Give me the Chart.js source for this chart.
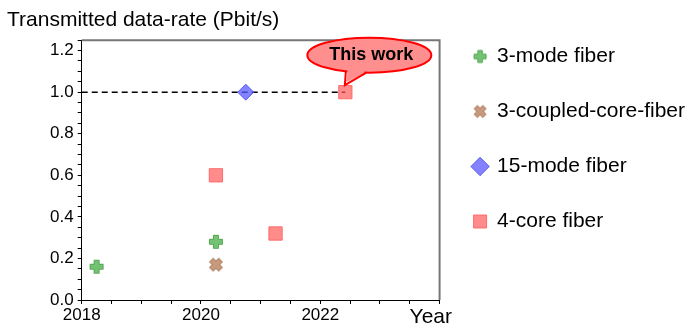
<!DOCTYPE html>
<html>
<head>
<meta charset="utf-8">
<script src="https://cdn.jsdelivr.net/npm/chart.js@4.4.0/dist/chart.umd.min.js"></script>
<style>
body { margin: 0; background: #fff; }
</style>
</head>
<body>
<canvas id="rateChart" width="700" height="331"></canvas>
<script>
// values
const seriesNames = ['3-mode fiber', '3-coupled-core-fiber', '15-mode fiber', '4-core fiber'];
const modeYears = [2018.25, 2020.25];
const modeRates = [0.16, 0.28];
const coupledYears = [2020.25];
const coupledRates = [0.17];
const fewModeYears = [2020.75];
const fewModeRates = [1.0];
const coreYears = [2020.25, 2021.25, 2022.42];
const coreRates = [0.60, 0.32, 1.0];
const refLineYears = [2018, 2022.42];
const refLineRates = [1.0, 1.0];
const yTickValues = [0, 0.2, 0.4, 0.6, 0.8, 1.0, 1.2];
const yTickLabels = ['0.0', '0.2', '0.4', '0.6', '0.8', '1.0', '1.2'];
const xTickValues = [2018, 2020, 2022];
const xTickLabels = ['2018', '2020', '2022'];
const calloutText = 'This work';
const xAxisName = 'Year';

const FONT = "'Liberation Sans', Arial, Helvetica, sans-serif";
Chart.defaults.font.family = FONT;
Chart.defaults.color = '#000';

const toPoints = (xs, ys) => xs.map((x, i) => ({x: x, y: ys[i]}));

// filled plus (or x when rotated) drawn on a small canvas
function makeCross(size, arm, reach, angle, fill, stroke) {
  const c = document.createElement('canvas');
  c.width = size; c.height = size;
  const g = c.getContext('2d');
  const a = arm / 2, e = reach;
  g.translate(size / 2, size / 2);
  g.rotate(angle);
  g.beginPath();
  g.moveTo(-a, -e); g.lineTo(a, -e); g.lineTo(a, -a); g.lineTo(e, -a); g.lineTo(e, a); g.lineTo(a, a);
  g.lineTo(a, e); g.lineTo(-a, e); g.lineTo(-a, a); g.lineTo(-e, a); g.lineTo(-e, -a); g.lineTo(-a, -a);
  g.closePath();
  g.fillStyle = fill; g.fill();
  g.strokeStyle = stroke; g.lineWidth = 1; g.stroke();
  return c;
}

const greenFill = 'rgba(92,184,92,0.85)', greenEdge = 'rgba(70,160,70,0.9)';
const brownFill = 'rgba(190,138,104,0.85)', brownEdge = 'rgba(170,120,90,0.9)';
const plusMark = makeCross(18, 5, 6.5, 0, greenFill, greenEdge);
const xMark = makeCross(18, 5, 6.5, Math.PI / 4, brownFill, brownEdge);
const legendMarks = [makeCross(16, 4.5, 6, 0, greenFill, greenEdge), makeCross(16, 4.5, 6, Math.PI / 4, brownFill, brownEdge), null, null];

const decorations = {
  id: 'decorations',
  beforeDatasetsDraw(chart) {
    const {ctx, chartArea: a} = chart;
    ctx.save();
    ctx.strokeStyle = '#777';
    ctx.lineWidth = 2;
    ctx.beginPath();
    ctx.moveTo(a.left, a.top);
    ctx.lineTo(a.right, a.top);
    ctx.lineTo(a.right, a.bottom);
    ctx.stroke();
    ctx.restore();
  },
  afterDatasetsDraw(chart) {
    const {ctx, scales} = chart;
    const xs = scales.x, ys = scales.y;
    ctx.save();
    // axis name at the right end of the x axis
    ctx.font = '21px ' + FONT;
    ctx.fillStyle = '#000';
    ctx.textAlign = 'left';
    ctx.textBaseline = 'alphabetic';
    ctx.fillText(xAxisName, xs.right - 30, xs.bottom - 8);

    // speech bubble pointing at the newest 4-core point
    const last = coreYears.length - 1;
    const px = xs.getPixelForValue(coreYears[last]);
    const py = ys.getPixelForValue(coreRates[last]);
    const cx = px + 24, cy = py - 37;
    ctx.fillStyle = '#ff8f8f';
    ctx.strokeStyle = '#ff0000';
    ctx.lineWidth = 2;
    ctx.beginPath();
    ctx.ellipse(cx, cy, 62, 17.5, 0, 0, Math.PI * 2);
    ctx.fill();
    ctx.stroke();
    ctx.beginPath();
    ctx.moveTo(px + 2, cy + 8);
    ctx.lineTo(px + 2, py - 19);
    ctx.lineTo(px + 1, py - 10);
    ctx.lineTo(px + 19, py - 19);
    ctx.lineTo(px + 19, cy + 8);
    ctx.closePath();
    ctx.fill();
    ctx.beginPath();
    ctx.moveTo(px + 0.5, py - 20.5);
    ctx.lineTo(px - 0.5, py - 7);
    ctx.lineTo(px + 21, py - 19.5);
    ctx.stroke();
    ctx.fillStyle = '#000';
    ctx.font = 'bold 18px ' + FONT;
    ctx.textAlign = 'center';
    ctx.fillText(calloutText, cx + 2, cy + 5);
    ctx.restore();
  }
};

const ctx = document.getElementById('rateChart').getContext('2d');
const rateChart = new Chart(ctx, {
  type: 'scatter',
  data: {
    datasets: [
      {
        label: seriesNames[0],
        data: toPoints(modeYears, modeRates),
        pointStyle: plusMark,
        pointRadius: 8,
        backgroundColor: greenFill,
        borderColor: greenEdge,
      },
      {
        label: seriesNames[1],
        data: toPoints(coupledYears, coupledRates),
        pointStyle: xMark,
        pointRadius: 8,
        backgroundColor: brownFill,
        borderColor: brownEdge,
      },
      {
        label: seriesNames[2],
        data: toPoints(fewModeYears, fewModeRates),
        pointStyle: 'rectRot',
        pointRadius: 8,
        backgroundColor: 'rgba(90,90,255,0.75)',
        borderColor: 'rgba(80,80,240,0.9)',
        borderWidth: 1,
      },
      {
        label: seriesNames[3],
        data: toPoints(coreYears, coreRates),
        pointStyle: 'rect',
        pointRadius: 9.4,
        backgroundColor: 'rgba(255,90,90,0.7)',
        borderColor: 'rgba(255,100,100,0.9)',
        borderWidth: 1,
      },
      {
        label: '',
        data: toPoints(refLineYears, refLineRates),
        showLine: true,
        pointRadius: 0,
        borderColor: '#000',
        borderWidth: 1.5,
        borderDash: [6, 4],
        order: 1,
      },
    ],
  },
  options: {
    responsive: false,
    animation: false,
    layout: { padding: { left: 7, right: 5, top: 0, bottom: 0 } },
    plugins: {
      tooltip: { enabled: false },
      title: {
        display: true,
        text: 'Transmitted data-rate (Pbit/s)',
        align: 'start',
        color: '#000',
        font: { size: 21, weight: 'normal' },
        padding: { top: 8, bottom: 7 },
      },
      legend: {
        position: 'right',
        align: 'start',
        maxWidth: 300,
        title: { display: true, text: '', padding: { top: 11, bottom: 0 }, font: { size: 1, lineHeight: 1 } },
        labels: {
          usePointStyle: true,
          boxWidth: 13,
          boxHeight: 13,
          padding: 34,
          color: '#000',
          font: { size: 21 },
          generateLabels(chart) {
            const items = Chart.defaults.plugins.legend.labels.generateLabels(chart);
            return items.filter((it) => it.text !== '').map((it) => {
              if (legendMarks[it.datasetIndex]) it.pointStyle = legendMarks[it.datasetIndex];
              return it;
            });
          },
        },
      },
    },
    scales: {
      x: {
        type: 'linear',
        min: 2018,
        max: 2024,
        border: { color: '#000', width: 1 },
        grid: { drawOnChartArea: false, tickLength: 4, tickColor: '#000' },
        ticks: {
          stepSize: 0.5,
          autoSkip: false,
          maxRotation: 0,
          padding: 1,
          font: { size: 17 },
          color: '#000',
          callback: (v) => {
            const i = xTickValues.findIndex((t) => Math.abs(t - v) < 1e-6);
            return i >= 0 ? xTickLabels[i] : '';
          },
        },
        afterFit: (scale) => { scale.height = 31; },
      },
      y: {
        min: 0,
        max: 1.25,
        border: { color: '#000', width: 1 },
        grid: { drawOnChartArea: false, tickLength: 4, tickColor: '#000' },
        ticks: {
          stepSize: 0.05,
          autoSkip: false,
          padding: 4,
          font: { size: 17 },
          color: '#000',
          callback: (v) => {
            const i = yTickValues.findIndex((t) => Math.abs(t - v) < 1e-6);
            return i >= 0 ? yTickLabels[i] : '';
          },
        },
        afterFit: (scale) => { scale.width = 74.7; },
      },
    },
  },
  plugins: [decorations],
});
</script>
</body>
</html>
